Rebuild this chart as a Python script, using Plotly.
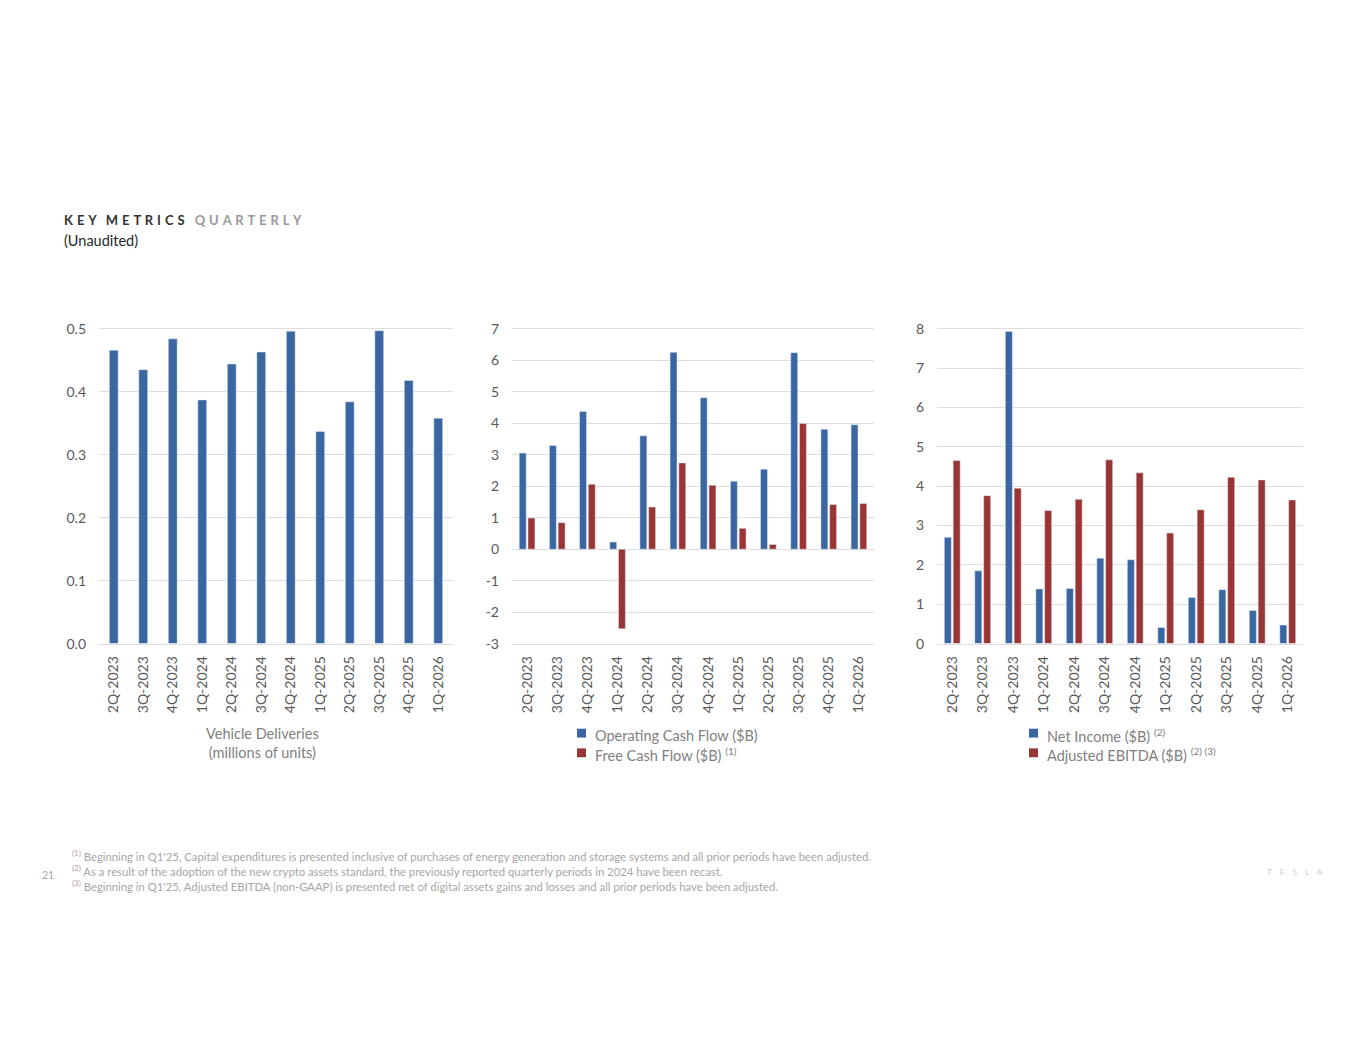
import plotly.graph_objects as go

# quarter labels shared by all three panels
quarters = ["2Q-2023", "3Q-2023", "4Q-2023", "1Q-2024", "2Q-2024", "3Q-2024",
            "4Q-2024", "1Q-2025", "2Q-2025", "3Q-2025", "4Q-2025", "1Q-2026"]

# vehicle deliveries, millions of units
deliveries = [0.466, 0.435, 0.484, 0.387, 0.444, 0.463,
              0.496, 0.337, 0.384, 0.497, 0.418, 0.358]

# cash flow, $B
operating_cf = [3.05, 3.29, 4.37, 0.23, 3.60, 6.25, 4.81, 2.16, 2.54, 6.24, 3.81, 3.95]
free_cf = [0.99, 0.84, 2.06, -2.53, 1.34, 2.74, 2.03, 0.66, 0.15, 3.99, 1.42, 1.45]

# profitability, $B
net_income = [2.70, 1.85, 7.93, 1.39, 1.40, 2.17, 2.13, 0.41, 1.17, 1.37, 0.84, 0.47]
adj_ebitda = [4.65, 3.76, 3.95, 3.38, 3.67, 4.67, 4.34, 2.81, 3.40, 4.23, 4.16, 3.65]

# y tick values / labels (plain hyphen for negatives, as on the slide)
ticks_deliv = [0, 0.1, 0.2, 0.3, 0.4, 0.5]
ticks_deliv_text = ["0.0", "0.1", "0.2", "0.3", "0.4", "0.5"]
ticks_cash = [-3, -2, -1, 0, 1, 2, 3, 4, 5, 6, 7]
ticks_cash_text = ["-3", "-2", "-1", "0", "1", "2", "3", "4", "5", "6", "7"]
ticks_profit = [0, 1, 2, 3, 4, 5, 6, 7, 8]
ticks_profit_text = ["0", "1", "2", "3", "4", "5", "6", "7", "8"]

W, H = 1365, 1055
BLUE = "#3a66a2"
RED = "#9a3536"
TICK = "#595959"
SOFT = "#7f7f7f"
GRID = "#dedede"
FONT = "Lato, sans-serif"


def px(x):
    return x / W


def py(y):
    return 1 - y / H


fig = go.Figure()

fig.add_trace(go.Bar(x=quarters, y=deliveries, width=0.3, marker_color=BLUE,
                     xaxis="x", yaxis="y", showlegend=False))

fig.add_trace(go.Bar(x=quarters, y=operating_cf, width=0.23, offset=-0.26,
                     marker_color=BLUE, xaxis="x2", yaxis="y2", showlegend=False))
fig.add_trace(go.Bar(x=quarters, y=free_cf, width=0.23, offset=0.03,
                     marker_color=RED, xaxis="x2", yaxis="y2", showlegend=False))

fig.add_trace(go.Bar(x=quarters, y=net_income, width=0.23, offset=-0.26,
                     marker_color=BLUE, xaxis="x3", yaxis="y3", showlegend=False))
fig.add_trace(go.Bar(x=quarters, y=adj_ebitda, width=0.23, offset=0.03,
                     marker_color=RED, xaxis="x3", yaxis="y3", showlegend=False))

ydom = [py(645), py(325)]
# x axis line mirrored gives the top and bottom gridlines that plotly drops at the edges
xaxis_common = dict(tickangle=-90, showgrid=False, zeroline=False,
                    showline=True, mirror=True, linecolor=GRID, linewidth=1,
                    ticks="", tickfont=dict(size=14, color=TICK, family=FONT),
                    ticklabelstandoff=6, fixedrange=True)
yaxis_common = dict(showgrid=True, gridcolor=GRID, gridwidth=1, zeroline=False,
                    showline=False, ticks="", tickmode="array",
                    tickfont=dict(size=14, color=TICK, family=FONT),
                    ticklabelstandoff=12, fixedrange=True)

fig.update_layout(
    width=W, height=H,
    margin=dict(l=0, r=0, t=0, b=0),
    paper_bgcolor="white", plot_bgcolor="white",
    font=dict(family=FONT, color=TICK),
    barmode="overlay",
    xaxis=dict(domain=[px(99), px(453)], anchor="y", **xaxis_common),
    yaxis=dict(domain=ydom, anchor="x", range=[0, 0.5], tickvals=ticks_deliv,
               ticktext=ticks_deliv_text, **yaxis_common),
    xaxis2=dict(domain=[px(512), px(874)], anchor="y2", **xaxis_common),
    yaxis2=dict(domain=ydom, anchor="x2", range=[-3, 7], tickvals=ticks_cash,
                ticktext=ticks_cash_text, **yaxis_common),
    xaxis3=dict(domain=[px(937), px(1303)], anchor="y3", **xaxis_common),
    yaxis3=dict(domain=ydom, anchor="x3", range=[0, 8], tickvals=ticks_profit,
                ticktext=ticks_profit_text, **yaxis_common),
)

annotations = []
shapes = []


def spaced(word):
    return " \u200a".join(word)


# header
annotations.append(dict(
    x=px(62), y=py(214), xref="paper", yref="paper", xanchor="left", yanchor="middle",
    showarrow=False, font=dict(size=13, family=FONT, color="#333333"),
    text="<b>" + spaced("KEY") + "\u00a0\u00a0 " + spaced("METRICS") + "</b>\u00a0\u00a0 "
         "<b><span style='color:#9a9a9a'>" + spaced("QUARTERLY") + "</span></b>"))
annotations.append(dict(
    x=px(62), y=py(235), xref="paper", yref="paper", xanchor="left", yanchor="middle",
    showarrow=False, font=dict(size=14.5, family=FONT, color="#262626"), text="(Unaudited)"))

# first panel caption
annotations.append(dict(
    x=px(262), y=py(746), xref="paper", yref="paper", xanchor="center", yanchor="middle",
    showarrow=False, font=dict(size=14.5, family=FONT, color=SOFT),
    text="Vehicle Deliveries<br>(millions of units)"))

# legends for panels 2 and 3
legend_items = [
    (577, 736, BLUE, "Operating Cash Flow ($B)"),
    (577, 756, RED, "Free Cash Flow ($B) <sup>(1)</sup>"),
    (1029, 736, BLUE, "Net Income ($B) <sup>(2)</sup>"),
    (1029, 756, RED, "Adjusted EBITDA ($B) <sup>(2) (3)</sup>"),
]
for lx, ly, col, label in legend_items:
    shapes.append(dict(type="rect", xref="paper", yref="paper",
                       x0=px(lx), x1=px(lx + 9), y0=py(ly + 4.5), y1=py(ly - 4.5),
                       fillcolor=col, line=dict(width=0)))
    annotations.append(dict(
        x=px(lx + 16), y=py(ly + 2), xref="paper", yref="paper", xanchor="left",
        yanchor="middle", showarrow=False, font=dict(size=14.5, family=FONT, color=SOFT),
        text=label))

# footnotes
notes = [
    "<sup>(1)</sup> Beginning in Q1'25, Capital expenditures is presented inclusive of purchases "
    "of energy generation and storage systems and all prior periods have been adjusted.",
    "<sup>(2)</sup> As a result of the adoption of the new crypto assets standard, the previously "
    "reported quarterly periods in 2024 have been recast.",
    "<sup>(3)</sup> Beginning in Q1'25, Adjusted EBITDA (non-GAAP) is presented net of digital "
    "assets gains and losses and all prior periods have been adjusted.",
]
for i, note in enumerate(notes):
    annotations.append(dict(
        x=px(70), y=py(860 + 15.5 * i), xref="paper", yref="paper", xanchor="left",
        yanchor="middle", showarrow=False,
        font=dict(size=11.3, family=FONT, color="#a6a6a6"), text=note))

annotations.append(dict(
    x=px(40), y=py(880), xref="paper", yref="paper", xanchor="left", yanchor="middle",
    showarrow=False, font=dict(size=10.5, family=FONT, color="#a6a6a6"), text="21"))
annotations.append(dict(
    x=px(1325), y=py(877), xref="paper", yref="paper", xanchor="right", yanchor="middle",
    showarrow=False, font=dict(size=8, family=FONT, color="#d0d0d0"),
    text="T\u00a0\u00a0\u00a0 E\u00a0\u00a0\u00a0 S\u00a0\u00a0\u00a0 L\u00a0\u00a0\u00a0 A"))

fig.update_layout(annotations=annotations, shapes=shapes)

fig.write_html("out.html", config={"displayModeBar": False},
               post_script="document.body.style.margin='0';")
